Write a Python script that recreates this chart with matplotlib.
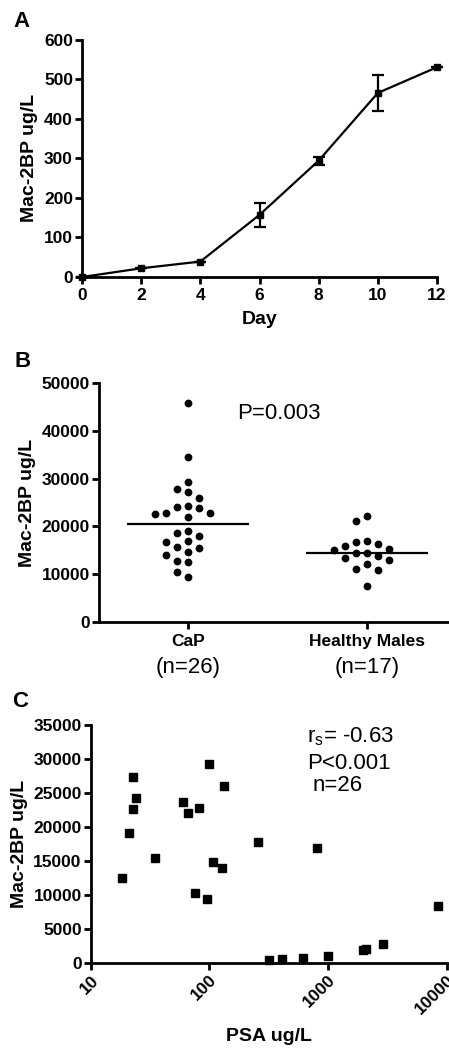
import numpy as np
import matplotlib.pyplot as plt
from matplotlib.ticker import NullLocator

plt.rcParams['font.family'] = ['Liberation Sans', 'DejaVu Sans']

# A: Mac-2BP in culture medium over time
days = [0, 2, 4, 6, 8, 10, 12]
mac_mean = [0, 22, 39, 157, 294, 465, 530]
mac_err = [0, 0, 0, 31, 10, 45, 0]

# B: serum Mac-2BP per group
cap_vals = [45800, 34600, 29350, 27250, 27750, 26000, 24250, 23850, 23980,
            22700, 22580, 22850, 22000, 19080, 18530, 17970, 16980, 16650,
            15720, 14680, 15390, 13980, 12790, 12450, 9430, 10480]
healthy_vals = [22150, 21110, 16920, 16220, 15930, 16640, 15030, 15240, 14340,
                14340, 13420, 13840, 12940, 12100, 10990, 10840, 7480]
group_names = ['CaP', 'Healthy Males']
group_n = ['(n=26)', '(n=17)']

# C: Mac-2BP vs PSA
psa = [18.2, 21.2, 22.6, 22.6, 24.1, 34.8, 60.3, 65.6, 82.2, 75.6, 94.8, 100,
       132.9, 107.9, 127, 255, 811, 320, 406, 618, 1000, 1953, 2083, 2881, 8470]
mac_c = [12480, 19090, 27310, 22660, 24230, 15420, 23730, 22030, 22760, 10370,
         9440, 29270, 26040, 14830, 14040, 17860, 16890, 490, 590, 730, 1120,
         1950, 2100, 2830, 8410]

W, H = 449, 1049
fig = plt.figure(figsize=(W / 100, H / 100), dpi=100)


def px_axes(left, top, right, bottom):
    return fig.add_axes([left / W, 1 - bottom / H, (right - left) / W, (bottom - top) / H])


def style(ax):
    for s in ['top', 'right']:
        ax.spines[s].set_visible(False)
    for s in ['left', 'bottom']:
        ax.spines[s].set_linewidth(2)
    ax.tick_params(direction='out', length=5, width=2, pad=1.5, labelsize=12.5)
    for lab in ax.get_xticklabels() + ax.get_yticklabels():
        lab.set_fontweight('bold')


def swarm(ax, vals, step_px=11, gap_px=10):
    # simple column swarm: shift a point sideways when it sits too close to another
    ypx = ax.transData.transform([(0, v) for v in vals])[:, 1]
    x0 = ax.transData.transform([(0, 0), (1, 0)])[:, 0]
    step = step_px / (x0[1] - x0[0])
    offs = np.zeros(len(vals))
    placed = []
    for i in np.argsort(vals)[::-1]:
        for k in [0, -1, 1, -2, 2, -3, 3, -4, 4]:
            if all(not (c == k and abs(p - ypx[i]) < gap_px) for c, p in placed):
                break
        placed.append((k, ypx[i]))
        offs[i] = k * step
    return offs


# ---------- A ----------
ax = px_axes(82, 39.5, 437, 277)
ax.errorbar(days, mac_mean, yerr=mac_err, color='black', lw=1.6, marker='s',
            ms=4, capsize=4, capthick=1.6, elinewidth=1.6, clip_on=False)
ax.set_xlim(0, 12)
ax.set_ylim(0, 600)
ax.set_xticks(range(0, 13, 2))
ax.set_yticks(range(0, 601, 100))
ax.set_xlabel('Day', fontsize=14, fontweight='bold', labelpad=6)
ax.set_ylabel('Mac-2BP ug/L', fontsize=14, fontweight='bold', labelpad=4)
style(ax)
ax.tick_params(axis='x', pad=3)
fig.text(13 / W, 1 - 11 / H, 'A', fontsize=16, fontweight='bold', va='top')

# ---------- B ----------
ax = px_axes(99, 383.3, 449, 621.7)
ax.set_xlim(-0.497, 1.458)
ax.set_ylim(0, 50000)
for i, vals in enumerate([cap_vals, healthy_vals]):
    offs = swarm(ax, vals)
    ax.plot(i + offs, vals, 'o', color='black', ms=4.6, clip_on=False)
    ax.hlines(np.median(vals), i - 0.34, i + 0.34, color='black', lw=1.6)
    ax.annotate(group_n[i], (i, -0.15), xycoords=('data', 'axes fraction'),
                ha='center', va='top', fontsize=16)
ax.set_xticks([0, 1])
ax.set_xticklabels(group_names)
ax.set_yticks(range(0, 50001, 10000))
ax.set_ylabel('Mac-2BP ug/L', fontsize=14, fontweight='bold', labelpad=4)
style(ax)
ax.tick_params(axis='x', pad=4)
ax.text(0.274, 43650, 'P=0.003', fontsize=16, ha='left', va='center')
fig.text(14 / W, 1 - 351 / H, 'B', fontsize=16, fontweight='bold', va='top')

# ---------- C ----------
ax = px_axes(90.7, 725, 446.7, 963.3)
ax.set_xscale('log')
ax.plot(psa, mac_c, 's', color='black', ms=6, clip_on=False)
ax.set_xlim(10, 10000)
ax.set_ylim(0, 35000)
ax.set_xticks([10, 100, 1000, 10000])
ax.set_xticklabels(['10', '100', '1000', '10000'])
ax.xaxis.set_minor_locator(NullLocator())
ax.set_yticks(range(0, 35001, 5000))
ax.set_xlabel('PSA ug/L', fontsize=14, fontweight='bold', labelpad=8)
ax.set_ylabel('Mac-2BP ug/L', fontsize=14, fontweight='bold', labelpad=4)
style(ax)
for lab in ax.get_xticklabels():
    lab.set_rotation(45)
    lab.set_ha('right')
    lab.set_va('top')
    lab.set_rotation_mode('anchor')
ax.text(0.6076, 0.952, r'r$_\mathregular{s}$= -0.63', transform=ax.transAxes,
        fontsize=16, va='center')
ax.text(0.6076, 0.838, 'P<0.001', transform=ax.transAxes, fontsize=16, va='center')
ax.text(0.6244, 0.748, 'n=26', transform=ax.transAxes, fontsize=16, va='center')
fig.text(12 / W, 1 - 691 / H, 'C', fontsize=16, fontweight='bold', va='top')

fig.savefig('out.png', dpi=100)
